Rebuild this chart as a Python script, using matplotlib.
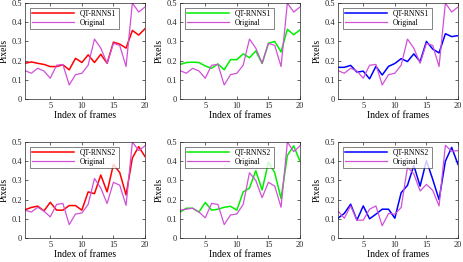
import matplotlib
matplotlib.use("Agg")
import matplotlib.pyplot as plt
import numpy as np

frames = list(range(1, 21))

orig_tl = [0.148, 0.134, 0.160, 0.146, 0.108, 0.176, 0.180, 0.073, 0.127, 0.134, 0.176, 0.312, 0.265, 0.186, 0.290, 0.279, 0.169, 0.500, 0.453, 0.479]
rnns1_red = [0.186, 0.193, 0.186, 0.180, 0.169, 0.169, 0.178, 0.152, 0.212, 0.190, 0.230, 0.190, 0.233, 0.186, 0.296, 0.286, 0.265, 0.357, 0.333, 0.366]
orig_tm = orig_tl
rnns1_green = [0.180, 0.190, 0.192, 0.190, 0.172, 0.160, 0.183, 0.152, 0.205, 0.205, 0.235, 0.215, 0.250, 0.185, 0.290, 0.300, 0.245, 0.363, 0.335, 0.360]
orig_tr = orig_tl
rnns1_blue = [0.165, 0.165, 0.175, 0.140, 0.145, 0.105, 0.170, 0.125, 0.170, 0.185, 0.210, 0.195, 0.235, 0.195, 0.300, 0.260, 0.240, 0.340, 0.325, 0.330]

orig_bl = [0.145, 0.135, 0.160, 0.140, 0.110, 0.175, 0.180, 0.070, 0.125, 0.130, 0.175, 0.310, 0.260, 0.180, 0.290, 0.275, 0.170, 0.500, 0.455, 0.480]
rnns2_red = [0.147, 0.159, 0.166, 0.141, 0.186, 0.145, 0.145, 0.169, 0.169, 0.145, 0.240, 0.231, 0.328, 0.240, 0.383, 0.341, 0.224, 0.417, 0.476, 0.424]
orig_bm = [0.145, 0.150, 0.155, 0.135, 0.105, 0.180, 0.175, 0.070, 0.120, 0.125, 0.175, 0.340, 0.300, 0.210, 0.290, 0.270, 0.160, 0.500, 0.450, 0.480]
rnns2_green = [0.135, 0.155, 0.155, 0.135, 0.185, 0.145, 0.150, 0.160, 0.165, 0.145, 0.240, 0.260, 0.350, 0.250, 0.395, 0.340, 0.205, 0.430, 0.480, 0.400]
orig_br = [0.141, 0.103, 0.167, 0.093, 0.093, 0.150, 0.167, 0.064, 0.128, 0.124, 0.159, 0.369, 0.334, 0.245, 0.279, 0.248, 0.167, 0.483, 0.452, 0.455]
rnns2_blue = [0.103, 0.128, 0.176, 0.093, 0.167, 0.100, 0.124, 0.150, 0.150, 0.103, 0.236, 0.274, 0.378, 0.270, 0.403, 0.305, 0.200, 0.400, 0.472, 0.383]

panels = [
    (rnns1_red, orig_tl, "#ff0000", "QT-RNNS1"),
    (rnns1_green, orig_tm, "#00ee00", "QT-RNNS1"),
    (rnns1_blue, orig_tr, "#0000ff", "QT-RNNS1"),
    (rnns2_red, orig_bl, "#ff0000", "QT-RNNS2"),
    (rnns2_green, orig_bm, "#00ee00", "QT-RNNS2"),
    (rnns2_blue, orig_br, "#0000ff", "QT-RNNS2"),
]

yticks = [0, 0.1, 0.2, 0.3, 0.4, 0.5]
ytick_labels = ["0", "0.1", "0.2", "0.3", "0.4", "0.5"]
xticks = [5, 10, 15, 20]

plt.rcParams['font.family'] = ['Liberation Serif', 'DejaVu Serif']
W, H = 463, 262
fig = plt.figure(figsize=(W / 100, H / 100), dpi=100)

lefts = [25, 180, 338]
width = 120
tops = [3, 142]
height = 96

for i, (series, orig, color, name) in enumerate(panels):
    r, c = divmod(i, 3)
    ax = fig.add_axes([lefts[c] / W, 1 - (tops[r] + height) / H, width / W, height / H])
    ax.plot(frames, series, color=color, lw=1.1, label=name)
    ax.plot(frames, orig, color="#d050d8", lw=0.9, label="Original")
    ax.set_xlim(1, 20)
    ax.set_ylim(0, 0.5)
    ax.set_xticks(xticks)
    ax.set_yticks(yticks)
    ax.set_yticklabels(ytick_labels)
    ax.tick_params(direction='in', length=2, width=0.5, labelsize=6, pad=2,
                   top=True, right=True, colors='#262626')
    for s in ax.spines.values():
        s.set_linewidth(0.5)
        s.set_color('#262626')
    ax.set_xlabel("Index of frames", fontsize=7, labelpad=1)
    ax.set_ylabel("Pixels", fontsize=7, labelpad=2)
    leg = ax.legend(loc='upper left', fontsize=5.5, frameon=True, fancybox=False,
                    borderpad=0.3, handlelength=5.5, labelspacing=0.15,
                    handletextpad=0.8, borderaxespad=0.6)
    leg.get_frame().set_edgecolor('#262626')
    leg.get_frame().set_linewidth(0.5)

fig.savefig("out.png", dpi=100)
